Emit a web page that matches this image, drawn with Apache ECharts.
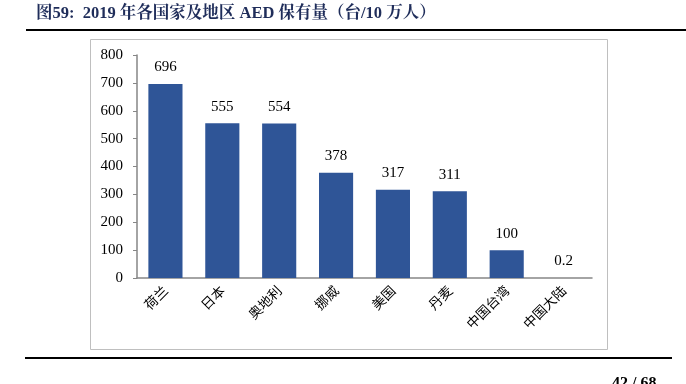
<!DOCTYPE html>
<html><head><meta charset="utf-8">
<script src="https://cdn.jsdelivr.net/npm/echarts@6/dist/echarts.min.js"></script>
<style>html,body{margin:0;padding:0;background:#fff}#c{width:686px;height:384px}</style>
</head><body><div id="c"></div>
<script>
const categories = ['荷兰','日本','奥地利','挪威','美国','丹麦','中国台湾','中国大陆'];
const values = [696, 555, 554, 378, 317, 311, 100, 0.2];
const yTicks = [0, 100, 200, 300, 400, 500, 600, 700, 800];
const titleText = '图59:  2019 年各国家及地区 AED 保有量（台/10 万人）';
const pageText = '42 / 68';

const chart = echarts.init(document.getElementById('c'), null, {renderer:'canvas'});
const serif = '"Liberation Serif","Times New Roman","Noto Serif CJK SC","Noto Sans CJK SC",serif';
chart.setOption({
  animation:false,
  grid:{left:137, right:94, top:55, bottom:106},
  xAxis:{type:'category', data:categories,
    axisLine:{lineStyle:{color:'#868686', width:1.5}},
    axisTick:{show:false},
    axisLabel:{rotate:45, interval:0, color:'#000', fontSize:13.5, margin:10,
      fontFamily:'"Noto Sans CJK SC",sans-serif'}},
  yAxis:{type:'value', min:yTicks[0], max:yTicks[yTicks.length-1], interval:100,
    axisLine:{show:true, lineStyle:{color:'#868686', width:1.5}},
    axisTick:{show:true, inside:false, length:4, lineStyle:{color:'#868686'}},
    splitLine:{show:false},
    axisLabel:{color:'#000', fontSize:15, fontFamily:serif, margin:14}},
  series:[{type:'bar', data:values, barWidth:'60%',
    itemStyle:{color:'#2F5597'},
    label:{show:true, position:'top', distance:9, color:'#000', fontSize:15, fontFamily:serif,
      formatter:p=>String(values[p.dataIndex])}}],
  graphic:[
    {type:'text', left:36, top:5, style:{text:titleText, font:'bold 16.5px '+serif, fill:'#1F2D5A'}},
    {type:'line', shape:{x1:26,y1:30,x2:686,y2:30}, style:{stroke:'#000', lineWidth:2}},
    {type:'rect', shape:{x:90.5,y:39.5,width:517,height:310}, style:{fill:'none', stroke:'#BFBFBF', lineWidth:1}, z:-1},
    {type:'line', shape:{x1:25,y1:358,x2:672,y2:358}, style:{stroke:'#000', lineWidth:2}},
    {type:'text', left:612, top:376, style:{text:pageText, font:'bold 16px '+serif, fill:'#000'}}
  ]
});
</script></body></html>
